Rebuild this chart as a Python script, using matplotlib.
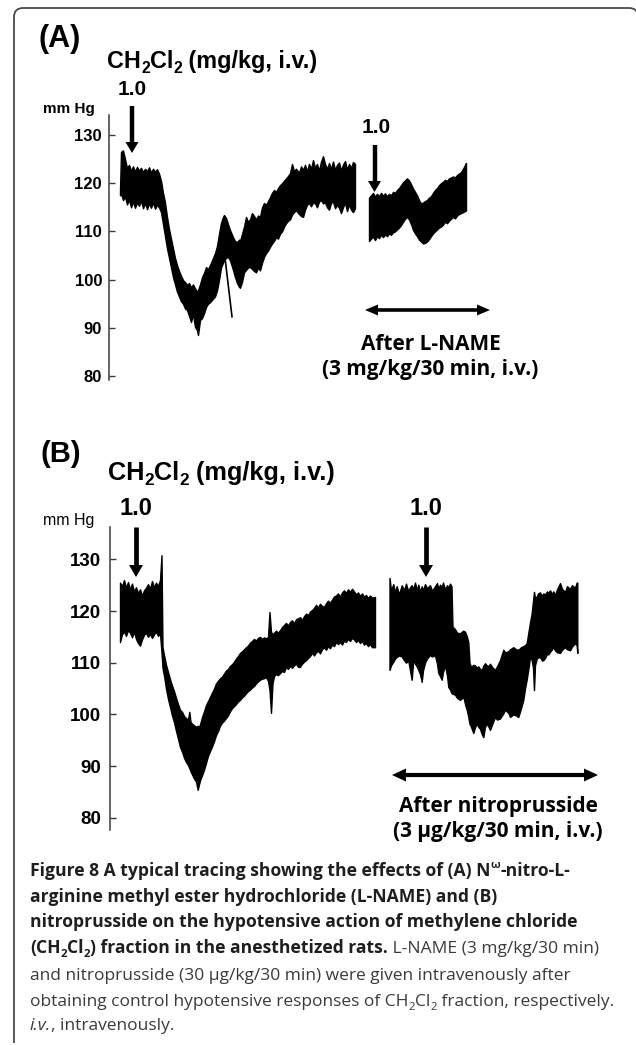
import matplotlib
matplotlib.use('Agg')
import matplotlib.pyplot as plt
from matplotlib.path import Path
from matplotlib.patches import PathPatch, Polygon
from matplotlib.lines import Line2D

# ---------------------------------------------------------------- data
# Panel A, control response (time in s from an arbitrary origin, pressure mmHg)
A1_t = [11, 12, 14, 16, 18, 20, 22, 24, 26, 28, 30, 32, 34, 36, 38, 40, 42, 44, 46, 48, 50,
        52, 54, 56, 58, 60, 62, 64, 66, 68, 70, 72, 74, 76, 78, 80, 82, 84, 86, 88, 89,
        91, 93, 95, 97, 99, 101, 103, 106, 108, 110, 112, 114, 115, 117, 119, 121, 124,
        126, 128, 130, 131, 133, 135, 137, 139, 141, 143, 145, 147, 149, 151, 153, 155,
        157, 159, 161, 163, 165, 167, 169, 171, 173, 175, 177, 179, 181, 183, 185, 187,
        190, 192, 194, 196, 198, 200, 202, 204, 206, 208, 210, 212, 214, 216, 218, 220,
        222, 224, 226, 228, 230, 232, 234, 236, 238, 240, 242, 244, 246]
A1_hi = [118.5, 126.5, 126.8, 125.0, 123.2, 123.8, 122.6, 123.5, 122.4, 123.4, 122.6, 123.2,
         122.3, 123.0, 122.5, 123.3, 122.2, 123.0, 122.4, 122.9, 122.0,
         120.5, 118.0, 116.0, 113.0, 110.5, 108.5, 106.5, 104.5, 103.0, 101.8, 100.8, 99.9,
         99.5, 98.9, 99.3, 98.4, 99.0, 98.2, 97.5, 97.8,
         99.0, 100.5, 101.4, 102.6, 102.2, 103.0, 104.0, 105.5, 107.0, 109.5, 111.8, 113.0,
         113.4, 112.8, 111.5, 110.3, 108.8, 108.0, 107.8, 108.3, 108.0, 109.5, 111.0, 113.0,
         112.0, 112.5, 113.8, 113.2, 112.5, 113.3, 113.0, 115.0, 115.9, 115.5, 116.3, 117.1,
         118.0, 118.6, 118.2, 119.0, 119.6, 120.0, 120.5, 121.0, 121.5, 122.1, 124.0, 122.5,
         123.0, 122.2, 123.5, 122.8, 123.8, 122.5, 124.0, 123.0, 124.8, 123.2, 124.0, 122.6,
         124.5, 125.6, 124.0, 123.0, 124.2, 123.0, 124.5, 122.8, 123.8, 124.3, 122.6, 123.9,
         124.6, 122.9, 124.0, 123.2, 124.4, 124.0]
A1_lo = [117.5, 117.8, 116.5, 117.2, 115.6, 116.6, 115.0, 116.2, 114.9, 116.0, 115.3, 116.4,
         114.8, 115.9, 114.6, 115.8, 114.9, 116.0, 114.7, 115.5, 115.0,
         114.0, 111.5, 109.0, 106.5, 104.5, 102.5, 100.5, 99.0, 97.5, 96.5, 95.5, 95.0,
         94.0, 93.7, 92.5, 91.2, 92.8, 90.2, 89.5, 88.5,
         91.6, 92.0, 93.0, 94.3, 95.0, 95.3, 95.8, 96.5, 97.8, 99.9, 102.5, 103.5,
         104.0, 104.5, 104.7, 104.0, 102.0, 100.5, 99.3, 98.5, 98.3, 99.5, 101.5, 102.0,
         102.5, 102.6, 102.2, 101.8, 101.5, 102.5, 101.9, 103.5, 104.7, 105.5, 106.0, 106.8,
         107.5, 108.0, 108.8, 108.5, 109.5, 110.0, 111.0, 111.7, 112.2, 112.5, 113.5, 114.0,
         114.4, 113.6, 113.2, 113.0, 114.5, 115.5, 115.9, 115.2, 116.0, 115.8, 115.0, 116.2,
         116.5, 115.8, 116.0, 115.0, 114.5, 115.9, 116.2, 114.8, 115.5, 114.9, 113.8, 115.0,
         116.0, 114.2, 115.6, 114.5, 114.0, 114.8]
# thin artefact stroke in panel A
A1_glitch_t = [116, 123]
A1_glitch_v = [104.5, 92.3]

# Panel A, after L-NAME
A2_t = [260, 262, 264, 266, 268, 270, 272, 274, 276, 278, 280, 282, 284, 286, 288, 290, 292,
        294, 296, 298, 300, 302, 304, 306, 308, 310, 312, 314, 316, 318, 320, 322, 324, 326,
        328, 330, 332, 334, 336, 338, 340, 342, 344, 346, 348, 350, 352, 354, 356, 357]
A2_hi = [117.0, 117.5, 118.0, 117.2, 117.8, 117.3, 118.0, 117.4, 117.9, 117.3, 117.8, 117.5,
         118.2, 118.0, 118.6, 119.0, 119.6, 120.2, 120.6, 121.0, 120.6, 119.8, 118.9, 118.2,
         117.5, 116.5, 115.8, 116.0, 116.3, 116.5, 117.0, 117.3, 118.0, 118.6, 119.0, 119.6,
         120.0, 120.3, 120.7, 120.5, 121.0, 121.2, 121.4, 121.2, 121.7, 122.0, 122.3, 123.0,
         123.8, 124.2]
A2_lo = [108.0, 108.5, 108.9, 108.2, 109.0, 108.6, 109.3, 108.8, 109.4, 109.0, 109.6, 109.3,
         109.8, 110.0, 110.4, 110.8, 111.3, 112.0, 112.6, 113.0, 112.5, 111.5, 110.3, 109.6,
         109.0, 108.3, 107.9, 107.5, 107.6, 107.9, 108.4, 109.0, 109.6, 110.0, 110.4, 110.8,
         111.0, 111.4, 112.0, 111.7, 112.2, 112.6, 113.0, 112.7, 113.3, 113.6, 113.8, 114.0,
         114.2, 114.4]

# Panel B, control response
B1_t = [10, 12, 14, 16, 18, 20, 22, 24, 26, 28, 30, 32, 34, 36, 38, 40, 42, 44, 46, 48, 50,
        51.5, 52.5, 54, 56, 58, 60, 62, 64, 66, 68, 70, 72, 74, 76, 78, 79.3, 80.5, 82, 84,
        86, 87.7, 89, 90.5, 92, 94, 96, 98, 100, 102, 104, 106, 108, 110, 112, 114, 116, 118,
        120, 122, 124, 126, 128, 130, 132, 134, 136, 138, 140, 142, 144, 146, 148, 150, 152,
        154, 156, 158, 159.5, 161, 162.5, 164, 166, 168, 170, 172, 174, 176, 178, 180, 182,
        184, 186, 188, 190, 192, 194, 196, 198, 200, 202, 204, 206, 208, 210, 212, 214, 216,
        218, 220, 222, 224, 226, 228, 230, 232, 234, 236, 238, 240, 242, 244, 246, 248, 250,
        252, 254, 256, 258, 260, 262, 265]
B1_hi = [125.5, 124.8, 126.0, 124.5, 125.6, 124.2, 125.3, 123.8, 124.6, 123.5, 124.2, 123.0,
         124.0, 124.5, 125.2, 124.3, 125.8, 124.6, 125.5, 124.8, 126.0,
         130.8, 113.0, 111.5, 109.6, 108.2, 106.8, 105.6, 104.5, 103.2, 102.0, 100.9, 100.5,
         99.7, 99.3, 99.0, 100.5, 98.6, 98.2, 97.9, 97.6, 97.8, 97.5, 98.4, 99.5, 100.6,
         101.8, 102.6, 103.4, 104.2, 105.0, 106.0, 106.5, 107.0, 107.3, 107.9, 108.5, 108.8,
         109.4, 109.7, 110.2, 110.8, 111.3, 111.9, 112.2, 112.6, 113.0, 113.3, 113.9, 114.2,
         114.6, 114.3, 114.8, 115.0, 114.6, 114.9, 114.7, 115.0, 119.8, 116.0, 115.5, 115.8,
         116.2, 115.8, 116.3, 116.9, 117.3, 117.7, 117.2, 117.9, 118.2, 117.6, 118.4, 118.6,
         118.8, 118.3, 119.0, 119.5, 119.2, 119.9, 120.2, 120.6, 121.2, 120.7, 121.4, 121.0,
         120.8, 121.5, 122.0, 121.6, 122.2, 122.8, 123.0, 123.4, 122.8, 123.6, 124.0, 123.5,
         124.2, 123.7, 124.3, 123.8, 123.2, 123.6, 122.9, 123.4, 122.8, 123.1, 122.5, 123.0,
         122.6, 122.7]
B1_lo = [114.0, 115.5, 116.0, 115.2, 116.3, 115.8, 114.9, 116.0, 114.6, 113.8, 113.3, 114.5,
         115.4, 115.8, 115.0, 115.6, 114.8, 115.5, 116.0, 115.2, 115.6,
         112.0, 109.0, 107.5, 105.0, 103.0, 101.4, 99.8, 98.5, 96.8, 95.3, 93.7, 92.8,
         91.6, 90.8, 90.2, 89.6, 89.0, 88.4, 87.6, 87.0, 85.4, 86.5, 87.5, 88.2, 89.3,
         90.6, 92.0, 92.9, 93.8, 94.8, 96.0, 96.8, 97.8, 98.4, 98.8, 99.3, 99.8,
         100.6, 101.2, 101.6, 102.0, 102.5, 102.8, 103.3, 103.6, 104.1, 104.5, 104.8, 105.2,
         105.5, 106.0, 106.4, 106.7, 106.9, 107.0, 107.2, 106.5, 104.7, 100.3, 106.0, 107.4,
         107.8, 107.6, 108.0, 108.4, 108.2, 109.2, 108.8, 109.4, 109.0, 109.5, 109.8, 109.2,
         109.2, 109.8, 110.2, 110.5, 110.9, 111.3, 111.9, 111.4, 112.0, 112.3, 111.8, 112.6,
         113.0, 112.5, 113.2, 112.8, 113.5, 113.2, 114.0, 113.6, 114.0, 113.5, 114.3, 114.0,
         114.6, 114.2, 114.8, 114.5, 114.0, 114.4, 113.8, 114.2, 113.5, 113.8, 113.2, 113.6,
         113.0, 113.0]

# Panel B, after nitroprusside
B2_t = [279.5, 281, 283.3, 285, 286.7, 289, 291.7, 294, 296, 298.3, 300, 301.7, 303.3, 305,
        307, 308.3, 310, 311.7, 313, 315, 317, 320, 322, 325, 327, 328.3, 330, 331.7, 333,
        335, 337, 338.3, 340, 341.5, 342.5, 345, 347, 350, 353.3, 355, 356.7, 358.3, 359.5,
        361, 363.3, 365, 366.7, 368.3, 370, 371.7, 373.3, 375, 376.7, 378, 380, 382, 385,
        387, 390, 393.3, 395, 398.3, 400, 403.3, 406, 408.3, 411, 413.3, 415, 416.7, 418.5,
        420, 421.7, 423, 424, 425, 426.7, 428, 430, 432, 433.3, 435, 437, 438.3, 440, 442,
        443.3, 445, 447, 450, 452, 455, 457, 460, 462, 465, 466.7, 467.3]
B2_hi = [126.4, 124.0, 125.2, 123.6, 124.8, 123.2, 125.0, 124.0, 125.3, 123.8, 124.6, 125.0,
         124.2, 125.5, 124.0, 125.1, 123.7, 124.8, 124.0, 125.2, 124.4, 125.0, 123.9, 124.8,
         125.4, 124.3, 125.1, 124.6, 125.5, 124.2, 125.0, 124.5, 125.3, 124.8, 117.0, 116.5,
         115.8, 115.7, 116.2, 116.0, 115.2, 114.0, 110.0, 109.2, 109.6, 109.5, 109.0, 109.3,
         108.8, 108.6, 109.4, 109.9, 109.5, 109.3, 109.8, 109.2, 108.6, 109.3, 110.5, 112.5,
         112.0, 112.2, 112.6, 113.0, 112.6, 112.5, 113.0, 113.2, 113.4, 113.8, 116.0, 117.8,
         119.6, 122.0, 123.7, 122.5, 122.8, 123.4, 123.6, 122.9, 123.4, 123.2, 123.8, 123.5,
         124.0, 123.3, 123.8, 123.1, 124.2, 125.4, 124.3, 123.7, 124.8, 124.3, 125.0, 124.5,
         125.5, 125.5]
B2_lo = [108.6, 109.5, 110.2, 110.8, 111.1, 111.4, 111.2, 110.5, 110.0, 110.4, 108.5, 106.7,
         110.6, 109.8, 109.2, 108.6, 107.8, 106.3, 108.5, 110.0, 110.8, 111.5, 111.2, 111.4,
         109.8, 108.0, 107.4, 106.7, 108.2, 109.5, 107.5, 105.3, 104.8, 104.1, 104.0, 103.8,
         103.2, 102.8, 103.4, 102.0, 100.9, 99.5, 98.2, 97.6, 96.4, 97.5, 98.2, 97.6,
         97.2, 96.2, 95.6, 97.6, 98.2, 97.8, 97.0, 98.0, 99.5, 99.0, 99.2, 100.2,
         100.9, 100.3, 99.5, 100.0, 99.8, 99.5, 101.2, 102.8, 105.0, 106.7, 109.0, 111.1,
         110.5, 109.0, 104.7, 109.5, 110.8, 111.0, 111.1, 110.4, 110.5, 110.9, 111.7, 111.6,
         112.1, 112.6, 113.0, 112.4, 112.0, 111.9, 112.5, 113.0, 112.6, 112.4, 113.1, 113.8,
         113.3, 111.9]

yticks = [80, 90, 100, 110, 120, 130]
ytick_labels = ['80', '90', '100', '110', '120', '130']

# ---------------------------------------------------------------- figure
W, H = 636, 1045
fig = plt.figure(figsize=(W / 100, H / 100), dpi=100)
fig.patch.set_facecolor('white')

ARIAL = ['Liberation Sans', 'DejaVu Sans']
SANS = ['Open Sans', 'DejaVu Sans']


def trace_axes(left, top, right, bottom, xlim, ylim, tick_fs, pad):
    ax = fig.add_axes([left / W, 1 - bottom / H, (right - left) / W, (bottom - top) / H])
    ax.set_xlim(*xlim)
    ax.set_ylim(*ylim)
    ax.patch.set_alpha(0)
    for s in ('top', 'right', 'bottom'):
        ax.spines[s].set_visible(False)
    ax.spines['left'].set_color('#3a3a3a')
    ax.spines['left'].set_linewidth(1.1)
    ax.xaxis.set_visible(False)
    ax.set_yticks(yticks)
    ax.set_yticklabels(ytick_labels, fontfamily=ARIAL, fontweight='bold', fontsize=tick_fs)
    ax.tick_params(axis='y', direction='in', length=4.5, width=1.0, pad=pad, colors='#3a3a3a',
                   labelcolor='black')
    return ax


def draw_trace(ax, t, hi, lo):
    ax.fill_between(t, lo, hi, color='black', linewidth=1.0, edgecolor='black')


# Panel A axes (pixel geometry: spine x=109, 130 mmHg at y=135, 80 at y=376)
axA = trace_axes(109, 115, 509, 380, (0, 400), (79.17, 134.15), 12, 5)
draw_trace(axA, A1_t, A1_hi, A1_lo)
draw_trace(axA, A2_t, A2_hi, A2_lo)
axA.plot(A1_glitch_t, A1_glitch_v, color='black', lw=1.2)

# Panel B axes (spine x=110, 120 mmHg at y=611, 10 mmHg = 51.7 px)
axB = trace_axes(110, 527, 620, 830, (0, 510), (77.64, 136.25), 13.5, 6.5)
draw_trace(axB, B1_t, B1_hi, B1_lo)
draw_trace(axB, B2_t, B2_hi, B2_lo)

# ---------------------------------------------------------------- overlay (pixel coords)
ov = fig.add_axes([0, 0, 1, 1])
ov.set_xlim(0, W)
ov.set_ylim(H, 0)
ov.axis('off')
ov.patch.set_alpha(0)
ov.set_zorder(10)

# frame: rounded top corners, left side (right side runs just past the image edge)
r = 9
verts = [(14, 1043), (14, 8 + r), (14, 8), (14 + r, 8), (638 - r, 8), (638, 8), (638, 8 + r),
         (638, 1046)]
codes = [Path.MOVETO, Path.LINETO, Path.CURVE3, Path.CURVE3, Path.LINETO, Path.CURVE3,
         Path.CURVE3, Path.LINETO]
ov.add_patch(PathPatch(Path(verts, codes), fill=False, edgecolor='#4a4a4a', lw=1.3))


def down_arrow(x, y0, tip, lw=3.2, hw=13, hl=11):
    ov.add_line(Line2D([x, x], [y0, tip - hl + 1], color='black', lw=lw, solid_capstyle='butt'))
    ov.add_patch(Polygon([(x - hw / 2, tip - hl), (x + hw / 2, tip - hl), (x, tip)],
                         closed=True, color='black', lw=0))


def double_arrow(x0, x1, y, lw=2.6, hw=11, hl=13):
    ov.add_line(Line2D([x0 + hl - 1, x1 - hl + 1], [y, y], color='black', lw=lw,
                       solid_capstyle='butt'))
    ov.add_patch(Polygon([(x0, y), (x0 + hl, y - hw / 2), (x0 + hl, y + hw / 2)], closed=True,
                         color='black', lw=0))
    ov.add_patch(Polygon([(x1, y), (x1 - hl, y - hw / 2), (x1 - hl, y + hw / 2)], closed=True,
                         color='black', lw=0))


renderer = fig.canvas.get_renderer()


def seg_width(s, props):
    t1 = ov.text(0, 0, s + '|', **props)
    w1 = t1.get_window_extent(renderer).width
    t1.remove()
    t2 = ov.text(0, 0, '|', **props)
    w2 = t2.get_window_extent(renderer).width
    t2.remove()
    return w1 - w2


def draw_segments(x, y, segs):
    for s, props, dy in segs:
        ov.text(x, y + dy, s, ha='left', va='baseline', **props)
        x += seg_width(s, props)
    return x


def hdr_segments(fs):
    big = dict(fontfamily=ARIAL, fontweight='bold', fontsize=fs, color='black')
    small = dict(fontfamily=ARIAL, fontweight='bold', fontsize=fs * 0.68, color='black')
    return [('CH', big, 0), ('2', small, fs * 0.27), ('Cl', big, 0), ('2', small, fs * 0.27),
            (' (mg/kg, i.v.)', big, 0)]


# ----- Panel A annotations
ov.text(39, 47, '(A)', ha='left', va='baseline', fontfamily=ARIAL, fontweight='bold',
        fontsize=22)
draw_segments(107.5, 68, hdr_segments(16.8))
ov.text(132, 95, '1.0', ha='center', va='baseline', fontfamily=ARIAL, fontweight='bold',
        fontsize=15)
ov.text(376, 133, '1.0', ha='center', va='baseline', fontfamily=ARIAL, fontweight='bold',
        fontsize=15)
ov.text(68.5, 113, 'mm Hg', ha='center', va='baseline', fontfamily=ARIAL, fontweight='bold',
        fontsize=11)
down_arrow(132, 106, 153)
down_arrow(374.5, 145, 192)
double_arrow(365, 490, 310)
ov.text(431, 350, 'After L-NAME', ha='center', va='baseline', fontfamily=SANS,
        fontweight='bold', fontsize=15)
ov.text(430, 375, '(3 mg/kg/30 min, i.v.)', ha='center', va='baseline', fontfamily=SANS,
        fontweight='bold', fontsize=15)

# ----- Panel B annotations
ov.text(40, 462, '(B)', ha='left', va='baseline', fontfamily=ARIAL, fontweight='bold',
        fontsize=21)
draw_segments(108, 480, hdr_segments(18.2))
ov.text(135.5, 515, '1.0', ha='center', va='baseline', fontfamily=ARIAL, fontweight='bold',
        fontsize=17)
ov.text(426, 515, '1.0', ha='center', va='baseline', fontfamily=ARIAL, fontweight='bold',
        fontsize=17)
ov.text(68.5, 525, 'mm Hg', ha='center', va='baseline', fontfamily=ARIAL, fontweight='normal',
        fontsize=11.5)
down_arrow(136, 527, 577, lw=3.4, hw=14, hl=12)
down_arrow(426, 527, 577, lw=3.4, hw=14, hl=12)
double_arrow(392, 598, 775, lw=3.0, hw=13, hl=14)
ov.text(498, 812, 'After nitroprusside', ha='center', va='baseline', fontfamily=SANS,
        fontweight='bold', fontsize=15)
ov.text(498, 837, '(3 \u03bcg/kg/30 min, i.v.)', ha='center', va='baseline', fontfamily=SANS,
        fontweight='bold', fontsize=15)

# ----- caption
BOLD = dict(fontfamily=SANS, fontweight='bold', color='#1e1e1e')
REG = dict(fontfamily=SANS, fontweight='normal', color='#3a3a3a')

# fit font sizes to the measured line widths
bw = seg_width('nitroprusside on the hypotensive action of methylene chloride', dict(BOLD, fontsize=10))
bfs = 10 * 549 / bw
rw = seg_width('and nitroprusside (30 \u03bcg/kg/30 min) were given intravenously after', dict(REG, fontsize=10))
rfs = 10 * 541 / rw
B = dict(BOLD, fontsize=bfs)
Bs = dict(BOLD, fontsize=bfs * 0.65)
R = dict(REG, fontsize=rfs)
Rs = dict(REG, fontsize=rfs * 0.65)
Ri = dict(REG, fontsize=rfs, fontstyle='italic')

x0 = 30
lines = [
    (876, [('Figure 8 A typical tracing showing the effects of (A) N', B, 0),
           ('\u03c9', Bs, -8), ('-nitro-L-', B, 0)]),
    (902, [('arginine methyl ester hydrochloride (L-NAME) and (B)', B, 0)]),
    (927, [('nitroprusside on the hypotensive action of methylene chloride', B, 0)]),
    (953, [('(CH', B, 0), ('2', Bs, 4), ('Cl', B, 0), ('2', Bs, 4),
           (') fraction in the anesthetized rats.', B, 0),
           (' L-NAME (3 mg/kg/30 min)', R, 0)]),
    (980, [('and nitroprusside (30 \u03bcg/kg/30 min) were given intravenously after', R, 0)]),
    (1006, [('obtaining control hypotensive responses of CH', R, 0), ('2', Rs, 4), ('Cl', R, 0),
            ('2', Rs, 4), (' fraction, respectively.', R, 0)]),
    (1030, [('i.v.', Ri, 0), (', intravenously.', R, 0)]),
]
for y, segs in lines:
    draw_segments(x0, y, segs)

fig.savefig('out.png', dpi=100, facecolor='white')
